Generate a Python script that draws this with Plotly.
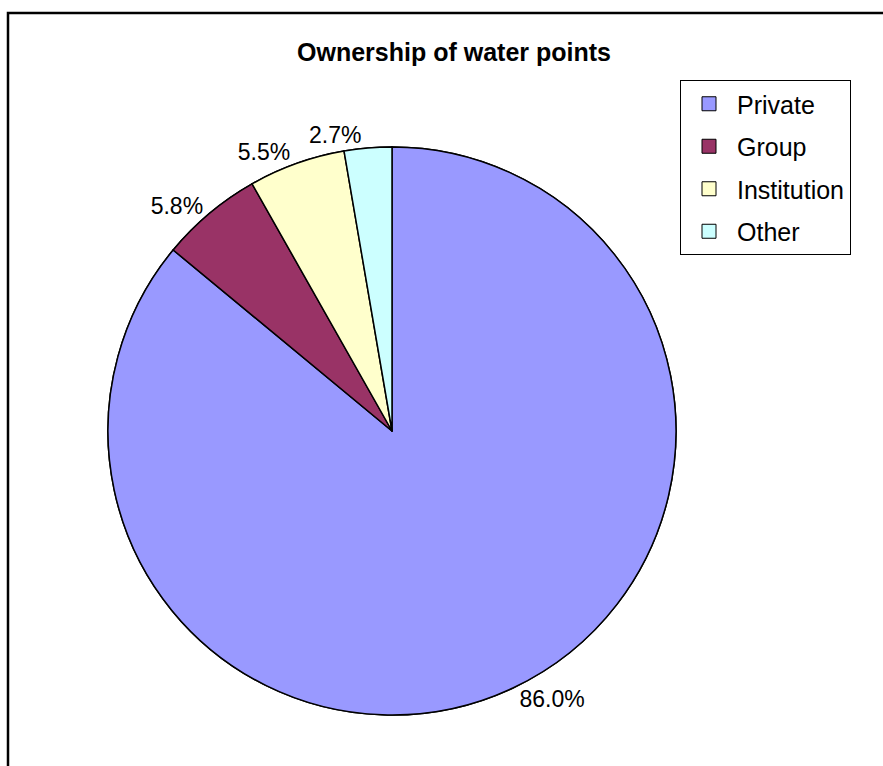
import plotly.graph_objects as go

categories = ["Private", "Group", "Institution", "Other"]
shares = [86.0, 5.8, 5.5, 2.7]
colors = ["#9999FF", "#993366", "#FFFFCC", "#CCFFFF"]
title_text = "Ownership of water points"

W, H = 883, 766
FONT = "Liberation Sans, Arial, sans-serif"
DOMAIN = dict(x=[108 / W, 676 / W], y=[51 / H, 619 / H])

fig = go.Figure()

# two identical pies in the same domain: labels are split between them so that
# plotly does not push the smallest label away with a leader line
label_sets = [
    ["outside", "outside", "outside", "none"],
    ["none", "none", "none", "outside"],
]
for k, tpos in enumerate(label_sets):
    fig.add_trace(go.Pie(
        labels=categories,
        values=shares,
        sort=False,
        direction="clockwise",
        rotation=0,
        marker=dict(colors=colors, line=dict(color="black", width=1.5)),
        texttemplate="%{value:.1f}%",
        textposition=tpos,
        outsidetextfont=dict(family=FONT, size=23, color="black"),
        domain=DOMAIN,
        showlegend=False,
        hoverinfo="label+percent" if k == 0 else "skip",
    ))

# legend entries (one per category) so item spacing can match the reference
for i, (cat, col) in enumerate(zip(categories, colors)):
    fig.add_trace(go.Scatter(
        x=[None], y=[None], mode="markers", name=cat,
        marker=dict(symbol="square", size=14, color=col,
                    line=dict(color="black", width=1)),
        legendgroup=f"g{i}", showlegend=True,
    ))

fig.update_layout(
    width=W, height=H,
    margin=dict(l=0, r=0, t=0, b=0),
    paper_bgcolor="white", plot_bgcolor="white",
    xaxis=dict(visible=False), yaxis=dict(visible=False),
    title=dict(text=f"<b>{title_text}</b>", x=454 / W, xanchor="center",
               y=1 - 52 / H, yanchor="middle", yref="container",
               font=dict(family=FONT, size=25, color="black")),
    legend=dict(x=680 / W, xanchor="left", y=1 - 80 / H, yanchor="top",
                bordercolor="black", borderwidth=1, bgcolor="white",
                font=dict(family=FONT, size=25, color="black"),
                traceorder="grouped", tracegroupgap=7,
                itemwidth=46),
    shapes=[dict(type="rect", xref="paper", yref="paper",
                 x0=8 / W, x1=1.05, y0=1 - 13 / H, y1=-0.05,
                 line=dict(color="black", width=2.5), fillcolor="rgba(0,0,0,0)")],
)

fig.write_html("out.html")
